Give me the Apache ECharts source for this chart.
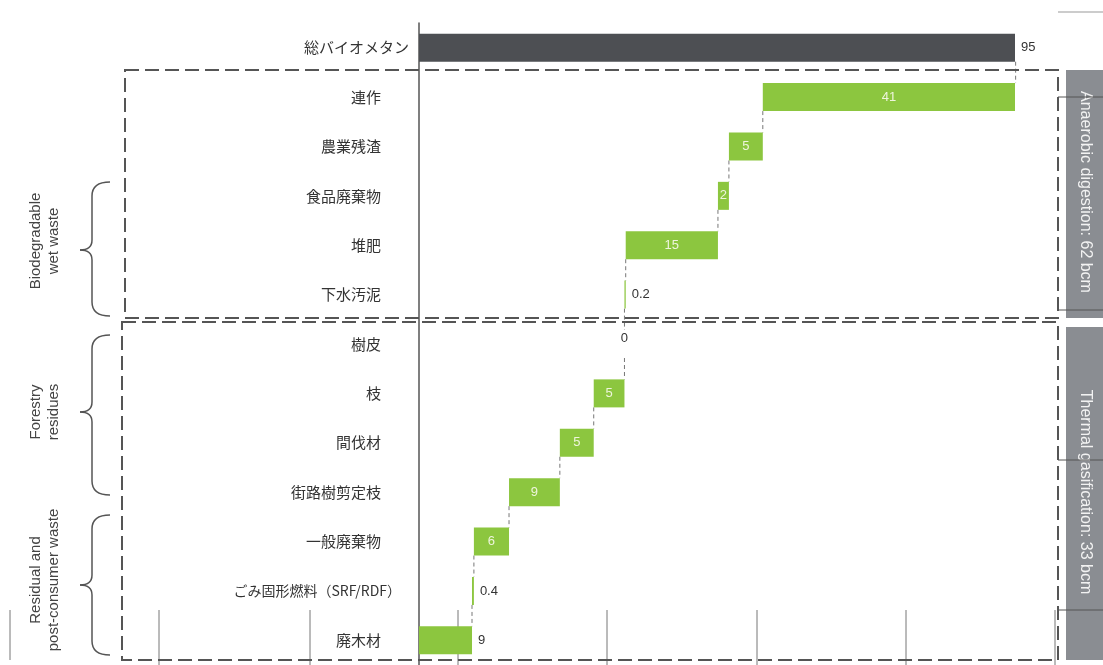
<!DOCTYPE html>
<html>
<head>
<meta charset="utf-8">
<script src="https://cdn.jsdelivr.net/npm/echarts@6/dist/echarts.min.js"></script>
<style>
html,body{margin:0;padding:0;background:#fff;}
#main{width:1103px;height:665px;}
</style>
</head>
<body>
<div id="main"></div>
<script>
// categories top -> bottom
var categories = ['総バイオメタン','連作','農業残渣','食品廃棄物','堆肥','下水汚泥','樹皮','枝','間伐材','街路樹剪定枝','一般廃棄物','ごみ固形燃料（SRF/RDF）','廃木材'];
// bar lengths (bcm)
var values = [95, 40.3, 5.4, 1.75, 14.7, 0.2, 0, 4.9, 5.4, 8.1, 5.6, 0.3, 8.45];
// printed labels
var valueLabels = ['95','41','5','2','15','0.2','0','5','5','9','6','0.4','9'];
var labelOutside = [true,false,false,false,false,true,false,false,false,false,false,true,true];
var groupNames = ['Anaerobic digestion: 62 bcm','Thermal gasification: 33 bcm'];
var braceNames = ['Biodegradable\nwet waste','Forestry\nresidues','Residual and\npost-consumer waste'];

// waterfall bases: each part starts where the parts below it end
var base = [];
for(var i=0;i<values.length;i++){
    if(i==0){ base[i]=0; continue; }
    var s=0;
    for(var j=i+1;j<values.length;j++) s+=values[j];
    base[i]=s;
}
var barData = [];
for(var i=0;i<values.length;i++){
    var lbl;
    if(labelOutside[i]) lbl = {position:'right', color:'#333', distance:6};
    else if(values[i]==0) lbl = {position:'inside', color:'#333', offset:[0,-6]};
    else lbl = {position:'inside', color:'#eef5dc'};
    barData.push({
        value: values[i],
        itemStyle: {color: i==0 ? '#4d4f53' : '#8cc63f'},
        label: lbl
    });
}
// connectors: x = end of next bar
var connData = [];
for(var i=0;i<values.length-1;i++){
    connData.push([base[i+1]+values[i+1], i]);
}

var myChart = echarts.init(document.getElementById('main'));
var dash = [14,6];
var braceStyle = {fill:'none', stroke:'#555', lineWidth:1.5};
function brace(y1,ym,y2){
    return [
        {type:'bezierCurve', shape:{x1:110,y1:y1,x2:92,y2:y1+14,cpx1:92,cpy1:y1}, style:braceStyle},
        {type:'line', shape:{x1:92,y1:y1+14,x2:92,y2:ym-10}, style:braceStyle},
        {type:'bezierCurve', shape:{x1:92,y1:ym-10,x2:80,y2:ym,cpx1:92,cpy1:ym}, style:braceStyle},
        {type:'bezierCurve', shape:{x1:80,y1:ym,x2:92,y2:ym+10,cpx1:92,cpy1:ym}, style:braceStyle},
        {type:'line', shape:{x1:92,y1:ym+10,x2:92,y2:y2-14}, style:braceStyle},
        {type:'bezierCurve', shape:{x1:92,y1:y2-14,x2:110,y2:y2,cpx1:92,cpy1:y2}, style:braceStyle}
    ];
}
var graphics = [
    {type:'rect', shape:{x:125,y:70,width:933,height:248}, style:{fill:'none', stroke:'#555', lineWidth:2, lineDash:dash}, z:10},
    {type:'rect', shape:{x:122,y:322,width:936,height:338}, style:{fill:'none', stroke:'#555', lineWidth:2, lineDash:dash}, z:10},
    {type:'rect', shape:{x:1066,y:70,width:37,height:248}, style:{fill:'#8a8d92'}},
    {type:'rect', shape:{x:1066,y:327,width:37,height:333}, style:{fill:'#8a8d92'}},
    {type:'text', x:1085, y:192, rotation:-Math.PI/2,
     style:{text:groupNames[0], fill:'#f2f2f2', font:'16px "Liberation Sans"', textAlign:'center', textVerticalAlign:'middle'}},
    {type:'text', x:1085, y:492, rotation:-Math.PI/2,
     style:{text:groupNames[1], fill:'#f2f2f2', font:'16px "Liberation Sans"', textAlign:'center', textVerticalAlign:'middle'}},
    {type:'text', x:45, y:241, rotation:Math.PI/2,
     style:{text:braceNames[0], fill:'#444', font:'15px "Liberation Sans"', textAlign:'center', textVerticalAlign:'middle', lineHeight:18}},
    {type:'text', x:45, y:412, rotation:Math.PI/2,
     style:{text:braceNames[1], fill:'#444', font:'15px "Liberation Sans"', textAlign:'center', textVerticalAlign:'middle', lineHeight:18}},
    {type:'text', x:45, y:580, rotation:Math.PI/2,
     style:{text:braceNames[2], fill:'#444', font:'15px "Liberation Sans"', textAlign:'center', textVerticalAlign:'middle', lineHeight:18}},
    // stray lines from the underlying slide
    {type:'line', shape:{x1:1058,y1:12,x2:1103,y2:12}, style:{stroke:'#999', lineWidth:1}},
    {type:'line', shape:{x1:1058,y1:97,x2:1103,y2:97}, style:{stroke:'#555', lineWidth:1}, z:11},
    {type:'line', shape:{x1:1058,y1:310,x2:1103,y2:310}, style:{stroke:'#555', lineWidth:1}, z:11},
    {type:'line', shape:{x1:1058,y1:460,x2:1103,y2:460}, style:{stroke:'#555', lineWidth:1}, z:11},
    {type:'line', shape:{x1:1058,y1:610,x2:1103,y2:610}, style:{stroke:'#555', lineWidth:1}, z:11},
    {type:'line', shape:{x1:10,y1:610,x2:10,y2:660}, style:{stroke:'#777', lineWidth:1}}
];
graphics = graphics.concat(brace(182,250,316), brace(335,412,495), brace(515,585,655));
var stray = [159,310,458,607,757,906,1055];
for(var i=0;i<stray.length;i++){
    graphics.push({type:'line', shape:{x1:stray[i],y1:610,x2:stray[i],y2:665}, style:{stroke:'#777', lineWidth:1}});
}

var option = {
    animation: false,
    grid: {left: 419, right: 88, top: 23, bottom: 0},
    xAxis: {type:'value', min:0, max:95, show:false},
    yAxis: {
        type:'category',
        data: categories,
        inverse: true,
        axisLine: {lineStyle:{color:'#555', width:1.5}},
        axisTick: {show:false},
        axisLabel: {
            margin: 10,
            fontFamily: 'Noto Sans CJK JP',
            fontSize: 15,
            color: '#333',
            formatter: function(v, idx){
                if(idx==0) return v;
                if(idx==11) return '{b|'+v+'}';
                return '{a|'+v+'}';
            },
            rich: {
                a: {fontFamily:'Noto Sans CJK JP', fontSize:15, color:'#333', padding:[0,28,0,0]},
                b: {fontFamily:'Noto Sans CJK JP', fontSize:14, color:'#333', padding:[0,8,0,0]}
            }
        }
    },
    series: [
        {
            type:'bar', stack:'w', data: base, barWidth: 28,
            itemStyle:{color:'transparent'}, silent:true
        },
        {
            type:'bar', stack:'w', data: barData, barWidth: 28,
            label: {
                show:true,
                fontFamily:'Liberation Sans',
                fontSize:13,
                formatter: function(p){ return valueLabels[p.dataIndex]; }
            }
        },
        {
            type:'custom',
            data: connData,
            encode: {x:0, y:1},
            z: 1,
            renderItem: function(params, api){
                var x = api.value(0), i = api.value(1);
                var p1 = api.coord([x, i]);
                var p2 = api.coord([x, i+1]);
                return {
                    type:'line',
                    shape:{x1:p1[0], y1:p1[1]+14, x2:p2[0], y2:p2[1]-14},
                    style:{stroke:'#777', lineWidth:1, lineDash:[4,3]}
                };
            }
        }
    ],
    graphic: graphics
};
myChart.setOption(option);
</script>
</body>
</html>
